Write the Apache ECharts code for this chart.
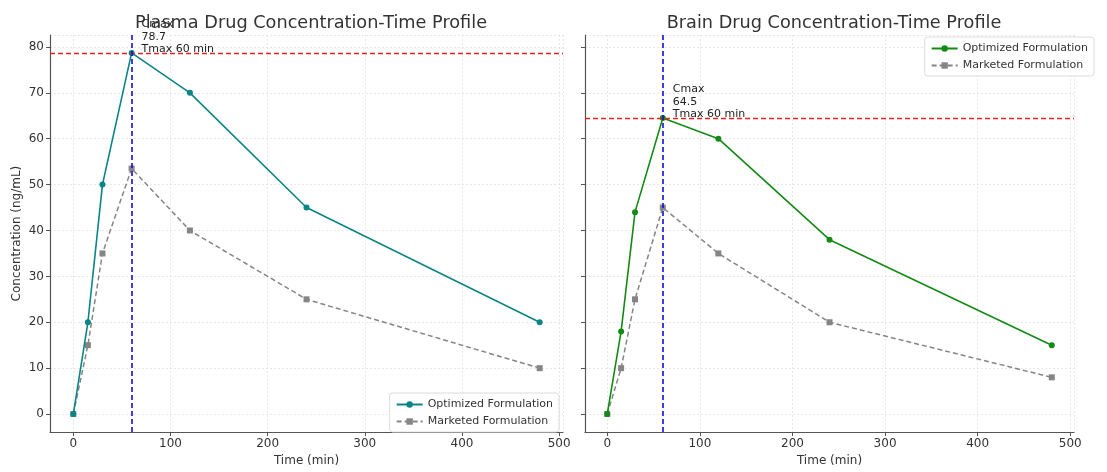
<!DOCTYPE html>
<html>
<head>
<meta charset="utf-8">
<script src="https://cdn.jsdelivr.net/npm/echarts@6/dist/echarts.min.js"></script>
<style>
html,body{margin:0;padding:0;background:#fff;}
#chart{width:1107px;height:472px;}
</style>
</head>
<body>
<div id="chart"></div>
<script>
// ---- data ----
const times = [0, 15, 30, 60, 120, 240, 480];
const plasmaOptimized = [0, 20, 50, 78.7, 70, 45, 20];
const plasmaMarketed = [0, 15, 35, 53.5, 40, 25, 10];
const brainOptimized = [0, 18, 44, 64.5, 60, 38, 15];
const brainMarketed = [0, 10, 25, 45, 35, 20, 8];
const xTicks = [0, 100, 200, 300, 400, 500];
const yTicks = [0, 10, 20, 30, 40, 50, 60, 70, 80];
const titles = ['Plasma Drug Concentration-Time Profile', 'Brain Drug Concentration-Time Profile'];
const seriesNames = ['Optimized Formulation', 'Marketed Formulation'];
const tmax = 60;
const plasmaCmax = 78.7;
const brainCmax = 64.5;

const pair = (xs, ys) => xs.map((x, i) => [x, ys[i]]);
const FONT = 'DejaVu Sans';
const TEAL = '#0a8585', GREEN = '#138a13', GRAY = '#858585';
const gridLine = {show: true, lineStyle: {color: '#e2e2e2', type: [2, 2], width: 0.8}};

function xAxisFor(idx) {
  return {
    type: 'value', gridIndex: idx, min: -24, max: 504, splitNumber: 5,
    name: 'Time (min)', nameLocation: 'middle', nameGap: 19,
    nameTextStyle: {fontFamily: FONT, fontSize: 12, color: '#333'},
    axisLine: {show: true, onZero: false, lineStyle: {color: '#555', width: 1.2}},
    axisTick: {show: true, length: 4, lineStyle: {color: '#555'}},
    axisLabel: {fontFamily: FONT, fontSize: 12, color: '#333', margin: 6, showMinLabel: false, showMaxLabel: false,
      formatter: v => (xTicks.indexOf(v) >= 0 ? String(v) : '')},
    splitLine: gridLine
  };
}
function yAxisFor(idx, showLabels) {
  return {
    type: 'value', gridIndex: idx, min: -3.935, max: 82.6, splitNumber: 9,
    name: showLabels ? 'Concentration (ng/mL)' : '', nameLocation: 'middle', nameGap: 27,
    nameTextStyle: {fontFamily: FONT, fontSize: 12, color: '#333'},
    axisLine: {show: true, onZero: false, lineStyle: {color: '#555', width: 1.2}},
    axisTick: {show: true, length: 4, lineStyle: {color: '#555'}},
    axisLabel: {show: true, fontFamily: FONT, fontSize: 12, color: '#333', margin: 6, showMinLabel: false, showMaxLabel: false,
      formatter: v => (showLabels && yTicks.indexOf(v) >= 0 ? String(v) : '')},
    splitLine: gridLine
  };
}

function optSeries(idx, data, color, cmax) {
  return {
    name: seriesNames[0], type: 'line', xAxisIndex: idx, yAxisIndex: idx,
    data: pair(times, data), symbol: 'circle', symbolSize: 6,
    lineStyle: {color: color, width: 1.6}, itemStyle: {color: color},
    z: 4,
    markLine: {
      silent: true, symbol: 'none', label: {show: false},
      data: [
        {yAxis: cmax, lineStyle: {color: '#e8231f', type: [5, 3], width: 1.4}},
        {xAxis: tmax, lineStyle: {color: '#1010d8', type: [5, 3], width: 1.6}}
      ]
    },
    markPoint: {
      silent: true, symbol: 'circle', symbolSize: 0,
      data: [{coord: [tmax, cmax]}],
      label: {show: true, position: [10, -35], align: 'left', verticalAlign: 'top',
        fontFamily: FONT, fontSize: 11, lineHeight: 12.5, color: '#222',
        formatter: 'Cmax\n' + cmax + '\nTmax ' + tmax + ' min'}
    }
  };
}
function mktSeries(idx, data) {
  return {
    name: seriesNames[1], type: 'line', xAxisIndex: idx, yAxisIndex: idx,
    data: pair(times, data), symbol: 'rect', symbolSize: 6,
    lineStyle: {color: GRAY, width: 1.5, type: [5, 3]}, itemStyle: {color: GRAY},
    z: 3
  };
}

function legendData(color) {
  return [
    {name: seriesNames[0], itemStyle: {color: color}, lineStyle: {color: color}},
    {name: seriesNames[1], itemStyle: {color: GRAY}, lineStyle: {color: GRAY}}
  ];
}

const chart = echarts.init(document.getElementById('chart'), null, {renderer: 'canvas'});
const legendCommon = {
  orient: 'vertical', itemWidth: 26, itemHeight: 8, itemGap: 6,
  backgroundColor: 'rgba(255,255,255,0.9)', borderColor: '#dcdcdc', borderWidth: 1, borderRadius: 3,
  padding: [6, 6, 5, 6],
  textStyle: {fontFamily: FONT, fontSize: 11, color: '#333'}
};
chart.setOption({
  backgroundColor: '#fff',
  animation: false,
  title: [
    {text: titles[0], left: 306, top: 9, textAlign: 'center', textStyle: {fontFamily: FONT, fontSize: 17.7, fontWeight: 'normal', color: '#333'}},
    {text: titles[1], left: 829, top: 9, textAlign: 'center', textStyle: {fontFamily: FONT, fontSize: 17.7, fontWeight: 'normal', color: '#333'}}
  ],
  grid: [
    {left: 50, right: 544, top: 35, bottom: 35},
    {left: 585, right: 33, top: 35, bottom: 35}
  ],
  xAxis: [xAxisFor(0), xAxisFor(1)],
  yAxis: [yAxisFor(0, true), yAxisFor(1, false)],
  legend: [
    Object.assign({}, legendCommon, {right: 1107 - 559, bottom: 472 - 432, data: legendData(TEAL)}),
    Object.assign({}, legendCommon, {right: 1107 - 1094, top: 37, data: legendData(GREEN)})
  ],
  series: [
    optSeries(0, plasmaOptimized, TEAL, plasmaCmax),
    mktSeries(0, plasmaMarketed),
    optSeries(1, brainOptimized, GREEN, brainCmax),
    mktSeries(1, brainMarketed)
  ]
});
</script>
</body>
</html>
